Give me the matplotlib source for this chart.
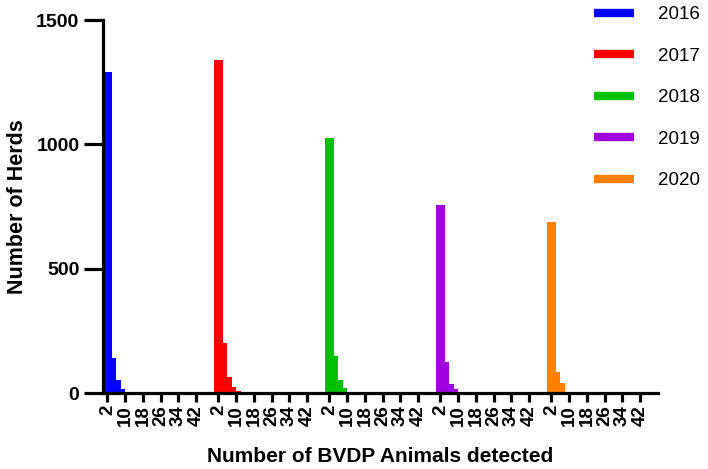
import matplotlib.pyplot as plt
from matplotlib.lines import Line2D

plt.rcParams['font.family'] = ['Liberation Sans', 'DejaVu Sans']

years = ['2016', '2017', '2018', '2019', '2020']
colors = ['#0000ff', '#ff0000', '#00c000', '#a000e0', '#ff8000']

# number of BVDP animals detected (bar values) and herds per value
animals = [2, 4, 6, 8, 10]
herds = {
    '2016': [1290, 141, 52, 16, 4],
    '2017': [1340, 201, 64, 24, 8],
    '2018': [1025, 149, 52, 20, 6],
    '2019': [756, 125, 36, 16, 3],
    '2020': [688, 84, 40, 4, 1],
}
tick_vals = [2, 10, 18, 26, 34, 42]
group_span = 50

fig = plt.figure(figsize=(7.08, 4.69), dpi=100)
ax = fig.add_axes([103 / 708, 1 - 393 / 469, 555 / 708, 373 / 469])

ticks, labels = [], []
for i, (yr, c) in enumerate(zip(years, colors)):
    off = i * group_span
    for v, h in zip(animals, herds[yr]):
        # first bar starts at the group origin and is twice as wide
        if v == animals[0]:
            left, w = off, 4
        else:
            left, w = off + v, 2
        ax.bar(left, h, width=w, align='edge', color=c, linewidth=0)
    for t in tick_vals:
        ticks.append(off + t)
        labels.append(str(t))

ax.set_xlim(0, group_span * len(years))
ax.set_ylim(0, 1500)
ax.set_yticks([0, 500, 1000, 1500])
ax.set_xticks(ticks)
ax.set_xticklabels(labels, rotation=90, fontsize=13.5, fontweight='bold')
for lab in ax.get_yticklabels():
    lab.set_fontsize(14)
    lab.set_fontweight('bold')

for s in ['top', 'right']:
    ax.spines[s].set_visible(False)
for s in ['left', 'bottom']:
    ax.spines[s].set_linewidth(2.3)
ax.tick_params(axis='y', length=14, width=2.3, pad=3)
ax.tick_params(axis='x', length=6.5, width=2.3, pad=2)

ax.set_ylabel('Number of Herds', fontsize=15.5, fontweight='bold', labelpad=6)
ax.set_xlabel('Number of BVDP Animals detected', fontsize=15, fontweight='bold', labelpad=15)

handles = [Line2D([], [], color=c, lw=6, solid_capstyle='butt') for c in colors]
fig.legend(handles, years, loc='upper left', bbox_to_anchor=(581 / 708, 1.015),
           frameon=False, fontsize=13.5, handlelength=2.1, handletextpad=1.3,
           labelspacing=1.3, borderpad=0.2)

fig.savefig('out.png', dpi=100)
